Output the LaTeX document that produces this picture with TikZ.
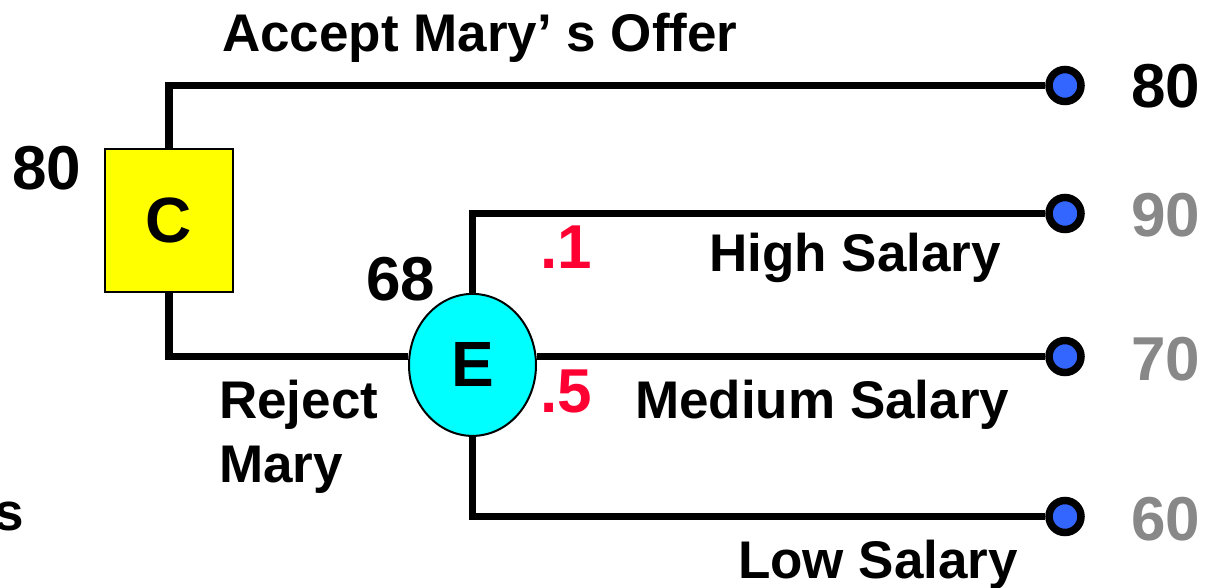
\documentclass[tikz,border=0pt]{standalone}
\usepackage{fontspec}
\setmainfont{Liberation Sans}
\usetikzlibrary{shapes.geometric}
\definecolor{decyellow}{RGB}{255,255,0}
\definecolor{evcyan}{RGB}{0,255,255}
\definecolor{termblue}{RGB}{51,102,255}
\definecolor{probred}{RGB}{255,0,51}
\definecolor{valgray}{RGB}{136,136,136}
\tikzset{
  decbox/.style={rectangle, draw=black, line width=2pt, fill=decyellow, inner sep=0pt,
    minimum width=127.5pt, minimum height=143pt, font=\fontsize{64}{77}\selectfont\bfseries},
  evnode/.style={ellipse, draw=black, line width=2pt, fill=evcyan, inner sep=0pt,
    minimum width=127pt, minimum height=142pt, font=\fontsize{64}{77}\selectfont\bfseries},
  term/.style={circle, draw=black, line width=7.5pt, fill=termblue, inner sep=0pt, minimum size=32pt},
  conn/.style={draw=black, line width=7.5pt},
  lbl/.style={inner sep=0pt, anchor=base west, font=\fontsize{53}{64}\selectfont\bfseries},
  num/.style={inner sep=0pt, anchor=base west, font=\fontsize{62}{74}\selectfont\bfseries},
}
\begin{document}
\begin{tikzpicture}[x=1pt,y=-1pt]
\useasboundingbox (0,0) rectangle (1216,588);
% decision and event nodes
\node[decbox] (C) at (168.75,220.8) {C};
\node[evnode] (E) at (472.5,364.9) {E};
% terminals
\node[term] (T1) at (1065,85.5) {};
\node[term] (T2) at (1065,213.5) {};
\node[term] (T3) at (1065,356.5) {};
\node[term] (T4) at (1065,516.5) {};
% connectors
\draw[conn] (C.north) |- (T1.west);
\draw[conn] (C.south) |- (E.west |- T3);
\draw[conn] (E.north) |- (T2.west);
\draw[conn] (E.east |- T3) -- (T3.west);
\draw[conn] (E.south) |- (T4.west);
% labels
\node[lbl] (accept) at (222,52) {Accept Mary’ s Offer};
\node[lbl] (reject) at (219,418) {Reject};
\node[lbl] (mary) at (219,482) {Mary};
\node[lbl, anchor=base east] (s) at (24.6,530) {s};
\node[lbl] (high) at (709,272) {High Salary};
\node[lbl] (med) at (635,418) {Medium Salary};
\node[lbl] (low) at (738,578) {Low Salary};
\node[num] (v80l) at (12,190) {80};
\node[num] (v68) at (366,300) {68};
\node[num, text=probred] (p1) at (540,269) {.1};
\node[num, text=probred] (p5) at (540,412) {.5};
\node[num] (r80) at (1131,108) {80};
\node[num, text=valgray] (r90) at (1131,237) {90};
\node[num, text=valgray] (r70) at (1131,380) {70};
\node[num, text=valgray] (r60) at (1131,540) {60};
\end{tikzpicture}
\end{document}
